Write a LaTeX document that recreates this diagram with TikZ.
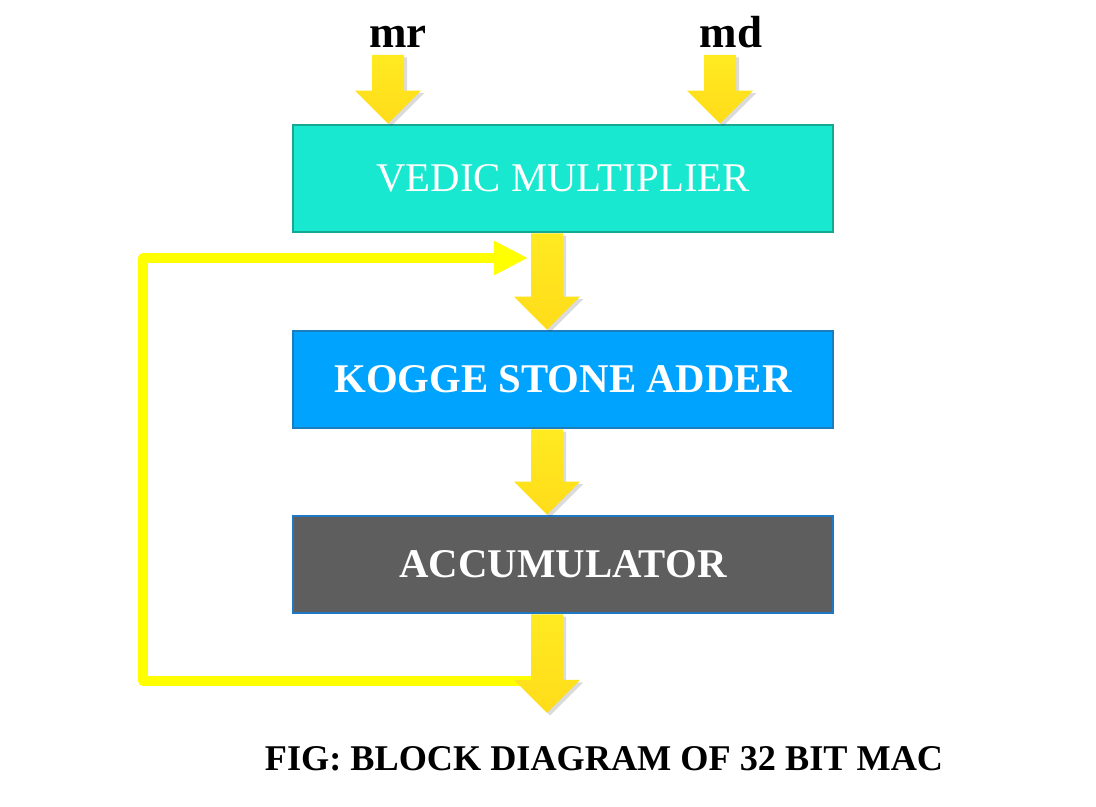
\documentclass[tikz,border=0pt]{standalone}
\usepackage{fontspec}
\setmainfont{Liberation Serif}
\usepackage{xcolor}
\usepackage{tikz}
\usetikzlibrary{calc,arrows.meta,shadows}
\definecolor{vmcol}{HTML}{19E8D0}
\definecolor{vmedge}{HTML}{15A892}
\definecolor{ksacol}{HTML}{00A4FF}
\definecolor{ksaedge}{HTML}{1A7DBF}
\definecolor{acccol}{HTML}{5E5E5E}
\definecolor{accedge}{HTML}{1E78C4}
\definecolor{arrtop}{HTML}{FFEA20}
\definecolor{arrbot}{HTML}{FFDC1A}
\definecolor{fbcol}{HTML}{FFFF00}
\tikzset{
  boxbase/.style={rectangle, line width=0.7pt, minimum width=5.4cm, text=white,
    font=\fontsize{11.6}{14}\selectfont},
  vmbox/.style={boxbase, fill=vmcol, draw=vmedge, minimum height=1.07cm},
  ksabox/.style={boxbase, fill=ksacol, draw=ksaedge, minimum height=0.97cm, font=\fontsize{11.6}{14}\selectfont\bfseries},
  accbox/.style={boxbase, fill=acccol, draw=accedge, minimum height=0.97cm, font=\fontsize{11.6}{14}\selectfont\bfseries},
  blockarrow/.style={top color=arrtop, bottom color=arrbot, draw=none,
    drop shadow={shadow xshift=0.9pt, shadow yshift=-0.7pt, opacity=0.2, fill=black!70}},
  fbline/.style={draw=fbcol, line width=2.8pt, line join=round,
    -{Triangle[length=0.34cm, width=0.32cm]}},
  lab/.style={anchor=base, font=\fontsize{12.8}{15}\selectfont\bfseries},
  figcap/.style={anchor=base, font=\fontsize{10.3}{12}\selectfont\bfseries},
}
% down block arrow from #1 (top of shaft) to #2 (tip)
\newcommand{\blockarr}[2]{%
  \path[blockarrow] ($(#1)+(-16,0)$) -- ($(#1)+(16,0)$) -- ($(#2)+(16,-33)$)
    -- ($(#2)+(33,-33)$) -- (#2) -- ($(#2)+(-33,-33)$) -- ($(#2)+(-16,-33)$) -- cycle;}

\begin{document}
\begin{tikzpicture}[x=0.01cm, y=-0.01cm]
  \useasboundingbox[fill=white] (0,0) rectangle (1096,807);
  % blocks
  \node[vmbox] (vm) at (563,178.5) {VEDIC MULTIPLIER};
  \node[ksabox] (ksa) at (563,379.5) {KOGGE STONE ADDER};
  \node[accbox] (acc) at (563,564.5) {ACCUMULATOR};
  % inputs
  \node[lab] (mr) at (398,48) {mr};
  \node[lab] (md) at (731,48) {md};
  \coordinate (mrin) at (388,55);
  \coordinate (mdin) at (720,55);
  \coordinate (out) at (547,713);
  % feedback path
  \coordinate (fbin) at (532,681);
  \coordinate (fbleft) at (143,681);
  \coordinate (fbtip) at (528,258);
  \draw[fbline] (fbin) -- (fbleft) |- (fbtip);
  % block arrows
  \blockarr{mrin}{vm.north -| mrin}
  \blockarr{mdin}{vm.north -| mdin}
  \blockarr{$(vm.south)+(-16,0)$}{$(ksa.north)+(-16,0)$}
  \blockarr{$(ksa.south)+(-16,0)$}{$(acc.north)+(-16,0)$}
  \blockarr{$(acc.south)+(-16,0)$}{out}
  % caption
  \node[figcap] (caption) at (604,771) {FIG: BLOCK DIAGRAM OF 32 BIT MAC};
\end{tikzpicture}
\end{document}
